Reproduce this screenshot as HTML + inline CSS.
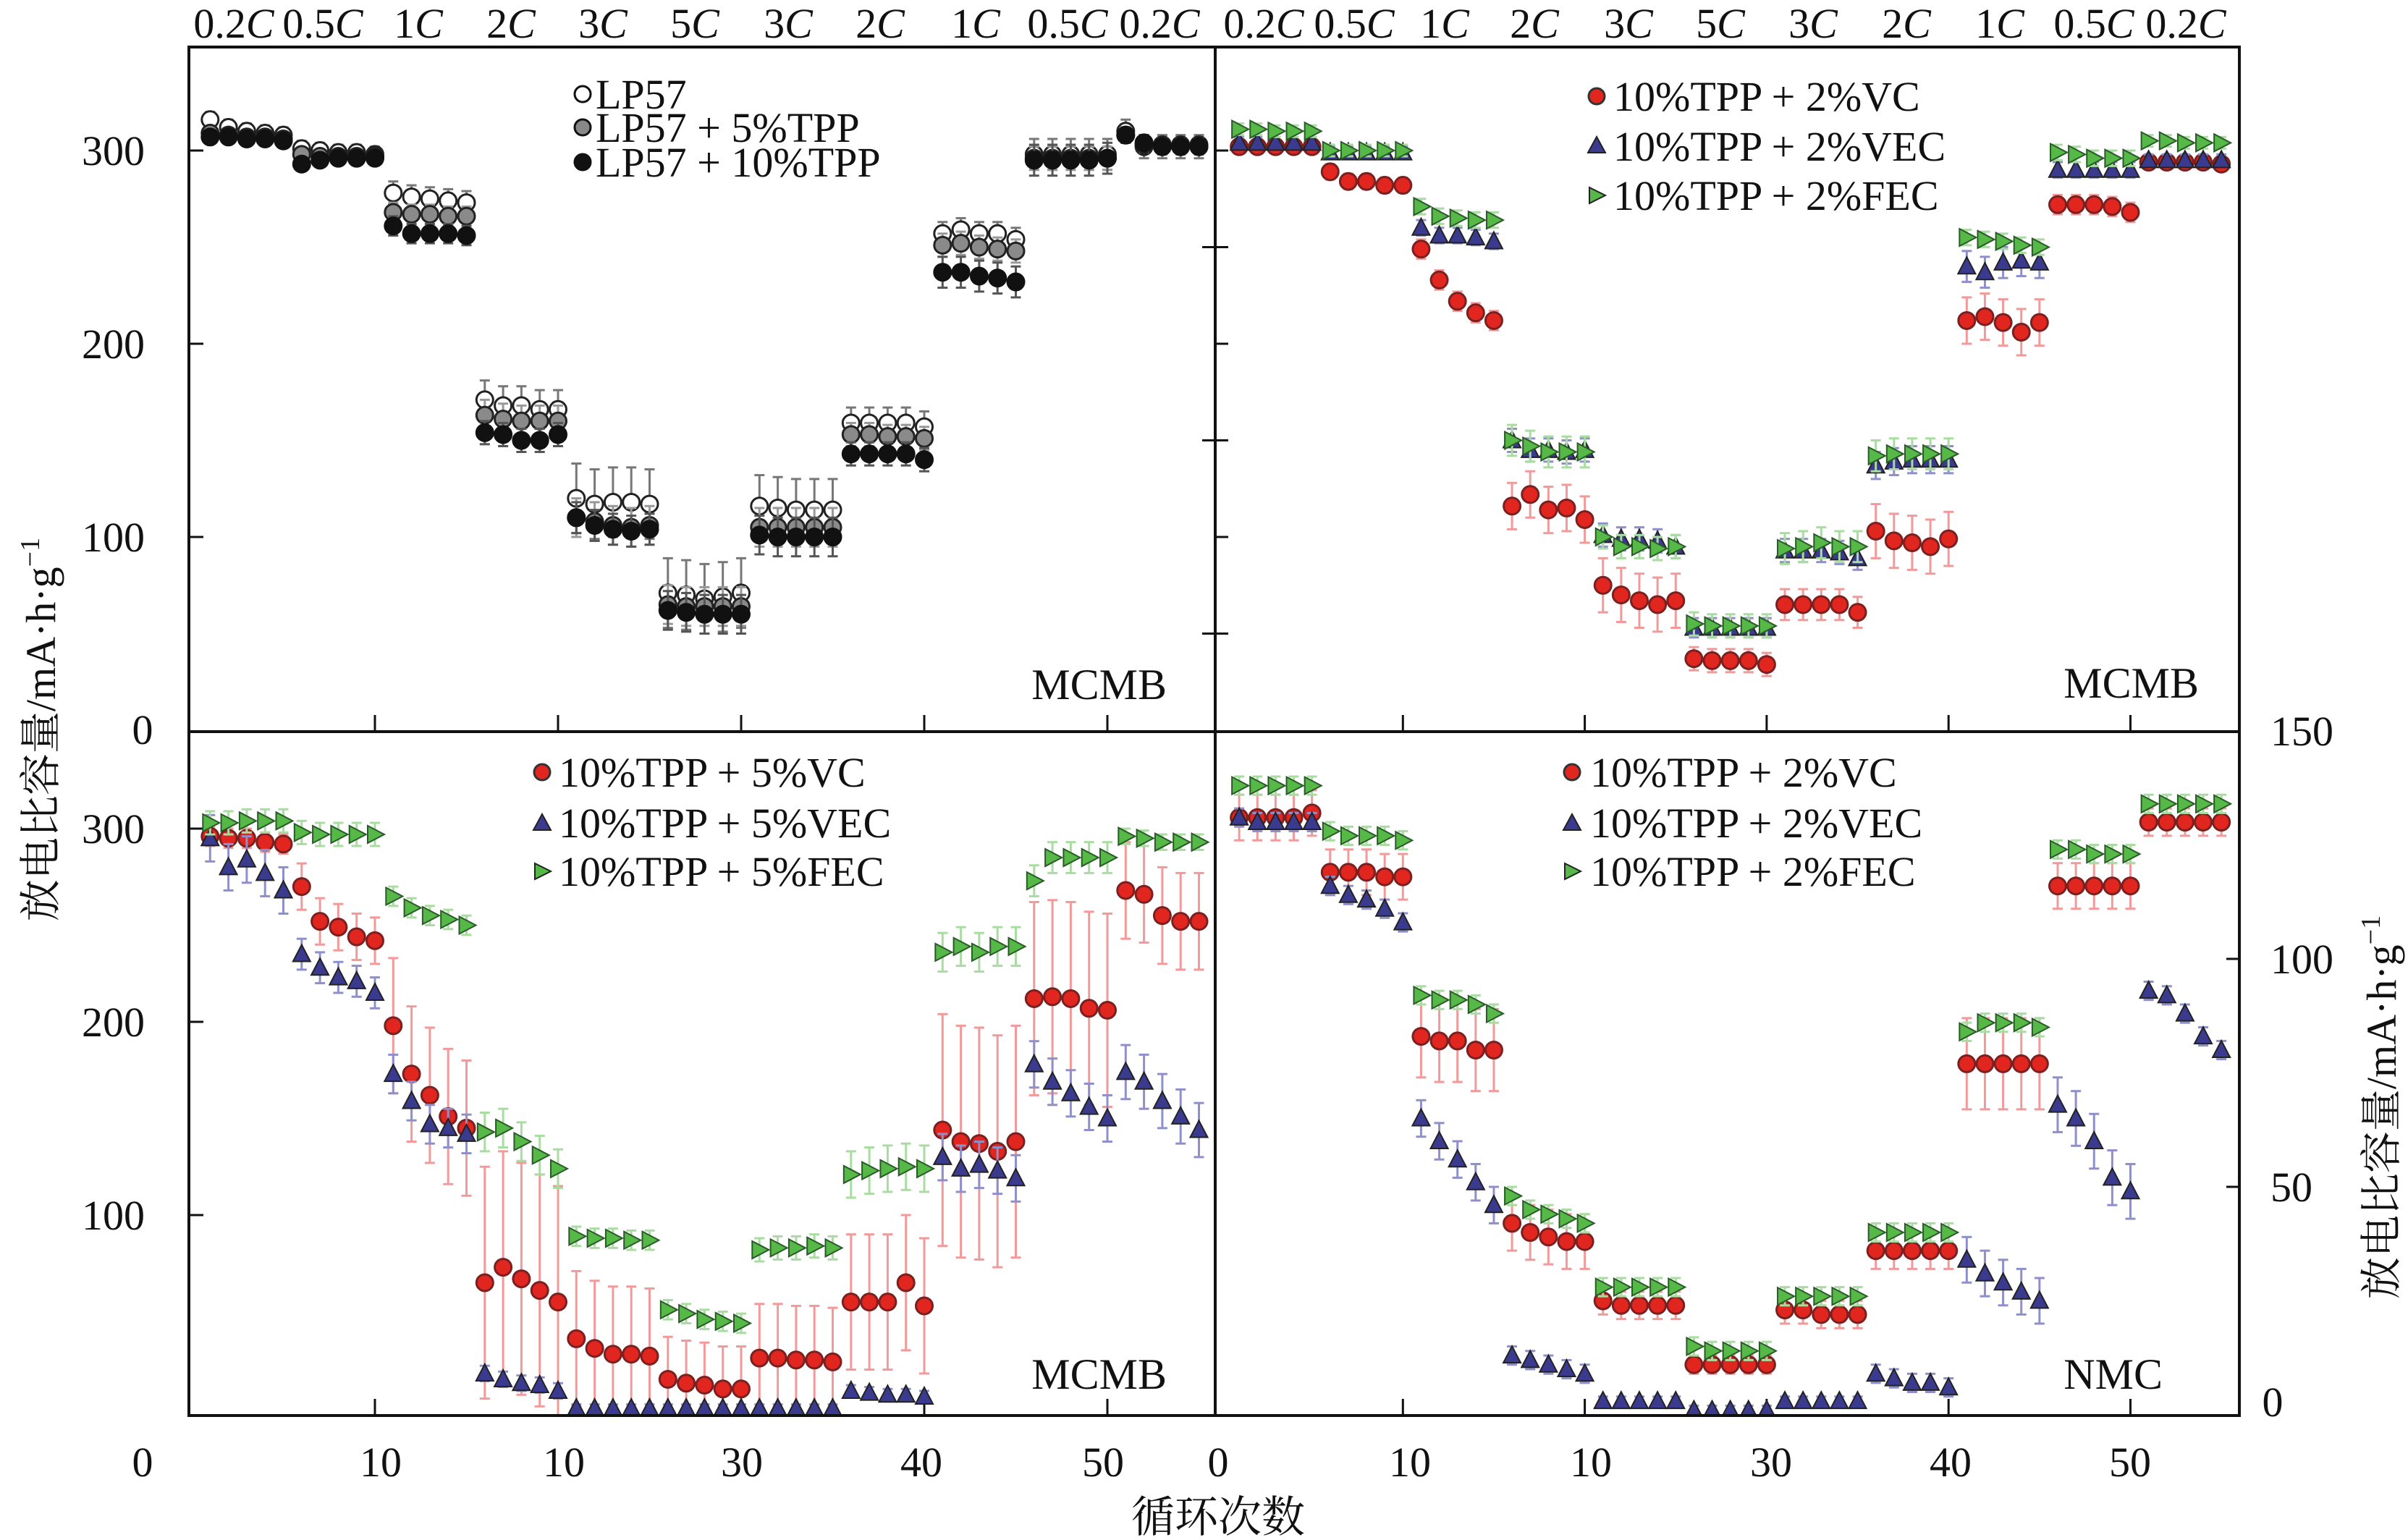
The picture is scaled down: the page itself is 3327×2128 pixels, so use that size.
<!DOCTYPE html>
<html><head><meta charset="utf-8"><style>
html,body{margin:0;padding:0;background:#fff}
svg{display:block}
text{font-family:"Liberation Serif","Noto Serif CJK SC",serif;fill:#111}
</style></head><body>
<svg id="chart" width="3327" height="2128" viewBox="0 0 3327 2128" xmlns="http://www.w3.org/2000/svg">
<defs>
<clipPath id="clipTL"><rect x="263" y="67" width="1414" height="943"/></clipPath>
<clipPath id="clipTR"><rect x="1681" y="67" width="1411" height="943"/></clipPath>
<clipPath id="clipBL"><rect x="263" y="1013" width="1414" height="941"/></clipPath>
<clipPath id="clipBR"><rect x="1681" y="1013" width="1411" height="941"/></clipPath>
</defs>
<g id="frame" stroke="#111" fill="none">
<rect x="261" y="65" width="2833" height="1891" stroke-width="4"/>
<line x1="1679" y1="65" x2="1679" y2="1956" stroke-width="4"/>
<line x1="261" y1="1011" x2="3094" y2="1011" stroke-width="4"/>
</g>
<g id="ticks" stroke="#111" stroke-width="3"></g>
<g id="layerTL" clip-path="url(#clipTL)"></g>
<g id="layerTR" clip-path="url(#clipTR)"></g>
<g id="layerBL" clip-path="url(#clipBL)"></g>
<g id="layerBR" clip-path="url(#clipBR)"></g>
<g id="labels" font-size="58"></g>

<!-- legends -->
<g font-size="58">
<circle cx="805" cy="130" r="11" fill="#fff" stroke="#111" stroke-width="3"/>
<text x="823" y="150">LP57</text>
<circle cx="805" cy="176" r="11" fill="#888" stroke="#111" stroke-width="3"/>
<text x="823" y="196">LP57 + 5%TPP</text>
<circle cx="805" cy="224" r="11" fill="#111" stroke="#111" stroke-width="3"/>
<text x="823" y="244">LP57 + 10%TPP</text>
</g>
<g font-size="58">
<circle cx="2206" cy="133" r="11" fill="#e0261f" stroke="#333" stroke-width="3"/>
<text x="2229" y="153">10%TPP + 2%VC</text>
<polygon points="2206,189 2194,211 2218,211" fill="#3a3a8e" stroke="#222" stroke-width="2"/>
<text x="2229" y="222">10%TPP + 2%VEC</text>
<polygon points="2196,259 2218,270 2196,281" fill="#56b947" stroke="#222" stroke-width="2"/>
<text x="2229" y="290">10%TPP + 2%FEC</text>
</g>
<g font-size="58">
<circle cx="749" cy="1067" r="11" fill="#e0261f" stroke="#333" stroke-width="3"/>
<text x="772" y="1087">10%TPP + 5%VC</text>
<polygon points="749,1125 737,1147 761,1147" fill="#3a3a8e" stroke="#222" stroke-width="2"/>
<text x="772" y="1157">10%TPP + 5%VEC</text>
<polygon points="739,1193 761,1204 739,1215" fill="#56b947" stroke="#222" stroke-width="2"/>
<text x="772" y="1224">10%TPP + 5%FEC</text>
</g>
<g font-size="58">
<circle cx="2172" cy="1067" r="11" fill="#e0261f" stroke="#333" stroke-width="3"/>
<text x="2197" y="1087">10%TPP + 2%VC</text>
<polygon points="2172,1125 2160,1147 2184,1147" fill="#3a3a8e" stroke="#222" stroke-width="2"/>
<text x="2197" y="1157">10%TPP + 2%VEC</text>
<polygon points="2162,1193 2184,1204 2162,1215" fill="#56b947" stroke="#222" stroke-width="2"/>
<text x="2197" y="1224">10%TPP + 2%FEC</text>
</g>
<g font-size="60">
<text x="1612" y="966" text-anchor="end">MCMB</text>
<text x="3038" y="964" text-anchor="end">MCMB</text>
<text x="1612" y="1919" text-anchor="end">MCMB</text>
<text x="2988" y="1919" text-anchor="end">NMC</text>
</g>
<text x="1683" y="2117" font-size="60" text-anchor="middle">循环次数</text>
<text transform="translate(76,1008) rotate(-90)" font-size="58" text-anchor="middle">放电比容量/mA·h·g<tspan font-size="38" dy="-22">−1</tspan></text>
<text transform="translate(3310,1530) rotate(-90)" font-size="58" text-anchor="middle">放电比容量/mA·h·g<tspan font-size="38" dy="-22">−1</tspan></text>
</svg>
<script>
// ---- data ----
const rateLabels = ["0.2","0.5","1","2","3","5","3","2","1","0.5","0.2"];
const rateXLeft = [323,446,578,706,833,960,1089,1216,1348,1475,1602];
const rateXRight = [1746,1871,1996,2120,2250,2377,2505,2634,2763,2893,3020];
const cycleTicks = [10,20,30,40,50];
const xTickLabels = ["0","10","10","30","40","50","0","10","10","30","40","50"];
const xTickLabelPos = [197,526,779,1025,1273,1524,1683,1948,2198,2447,2695,2943];

// top-left
const tlOpen = [316,312,310,309,308, 301,300,299,299,298, 278,276,275,274,273, 171,168,168,166,166, 120,117,118,118,117, 71,70,68,69,71, 116,115,114,114,114, 159,159,159,159,157, 257,259,257,257,254, 298,298,298,298,298, 310,302,302,302,302];
const tlGray = [309,308,307,307,306, 298,297,297,297,297, 268,267,267,266,266, 163,161,160,160,160, 110,108,106,105,106, 65,64,64,64,64, 105,105,105,105,105, 153,153,152,152,151, 251,252,250,249,248, 296,296,296,296,296, 308,303,303,303,303];
const tlBlack = [307,307,306,306,305, 293,295,296,296,296, 261,257,257,257,256, 154,153,150,150,153, 110,106,104,103,104, 62,61,60,60,60, 101,100,100,100,100, 143,143,143,143,140, 237,237,235,234,232, 295,295,295,295,296, 308,304,302,302,302];
const tlOpenErr = [4,4,6,10,18,18,16,8,6,8,6];
const tlGrayErr = [3,3,5,8,10,10,10,6,6,6,4];
const tlBlackErr = [3,3,5,6,8,10,10,6,8,8,4];

// top-right
const trVC = [302,302,302,302,302, 289,284,284,282,282, 249,233,222,216,212, 116,122,114,115,109, 75,70,67,65,67, 37,36,36,36,34, 65,65,65,65,61, 103,98,97,95,99, 212,214,211,206,211, 272,272,272,271,268, 294,294,294,294,293];
const trVEC = [304,304,304,304,304, 299,299,299,299,299, 260,256,256,255,253, 150,145,145,144,145, 101,99,99,98,95, 53,53,53,53,53, 93,93,93,92,89, 137,139,140,140,140, 240,237,242,243,242, 290,290,290,290,290, 295,295,295,295,295];
const trFEC = [311,311,310,310,310, 300,300,300,300,300, 271,266,265,264,264, 150,147,144,144,144, 100,95,95,94,95, 55,54,54,54,54, 94,95,97,95,95, 142,143,143,143,143, 255,254,253,251,250, 299,298,296,296,296, 305,305,304,304,304];
const trVCErr = [3,4,5,12,14,6,8,14,12,5,3];
const trVECErr = [3,3,4,6,6,5,6,7,8,4,3];
const trFECErr = [3,3,4,8,6,6,8,8,4,4,3];

// bottom-left
const blVC = [296,295,295,293,292, 270,252,249,244,242, 198,173,162,151,145, 65,73,67,61,55, 36,31,28,28,27, 15,13,12,10,10, 26,26,25,25,24, 55,55,55,65,53, 144,138,137,133,138, 212,213,212,207,206, 268,266,255,252,252];
const blVEC = [295,280,284,277,268, 235,228,223,221,215, 173,159,147,145,142, 18,15,13,12,9, 0,0,0,0,0, 0,0,0,0,0, 0,0,0,0,0, 9,8,7,7,6, 130,124,126,123,119, 178,169,163,156,150, 174,169,159,151,144];
const blFEC = [303,303,304,304,304, 298,297,297,297,297, 265,259,255,253,250, 143,145,138,131,124, 89,88,88,87,87, 51,49,46,45,44, 82,83,83,84,83, 121,123,124,125,124, 236,239,236,239,239, 273,285,285,285,285, 296,295,293,293,293];
const blVCErr = [5,12,35,60,35,22,28,35,60,50,25];
const blVECErr = [12,8,10,4,2,2,2,3,12,12,14];
const blFECErr = [6,6,5,10,5,5,6,12,10,8,4];

// bottom-right (right axis 0-150)
const brVC = [131,131,131,131,132, 119,119,119,118,118, 83,82,82,80,80, 42,40,39,38,38, 25,24,24,24,24, 11,11,11,11,11, 23,23,22,22,22, 36,36,36,36,36, 77,77,77,77,77, 116,116,116,116,116, 130,130,130,130,130];
const brVEC = [131,130,130,130,130, 116,114,113,111,108, 65,60,56,51,46, 13,12,11,10,9, 3,3,3,3,3, 1,1,1,1,1, 3,3,3,3,3, 9,8,7,7,6, 34,31,29,27,25, 68,65,60,52,49, 93,92,88,83,80];
const brFEC = [138,138,138,138,138, 128,127,127,127,126, 92,91,91,90,88, 48,45,44,43,42, 28,28,28,28,28, 15,14,14,14,14, 26,26,26,26,26, 40,40,40,40,40, 84,86,86,86,85, 124,124,123,123,123, 134,134,134,134,134];
const brVCErr = [5,5,9,6,3,2,3,4,10,5,3];
const brVECErr = [2,2,4,2,1,1,1,2,5,6,2];
const brFECErr = [2,2,2,2,2,2,2,2,2,2,2];

// ---- scales ----
const NS = "http://www.w3.org/2000/svg";
const xL = c => 265 + 25.3 * c;
const xR = c => 1687 + 25.13 * c;
const yTop = v => 1009 - 2.67 * v;
const yBot = v => 1946 - 2.67 * v;
const yBR = v => 1955 - 6.3 * v;

function mk(tag, attrs, parent){
  const e = document.createElementNS(NS, tag);
  for (const k in attrs) e.setAttribute(k, attrs[k]);
  parent.appendChild(e);
  return e;
}

function drawSeries(layer, name, vals, errs, xs, ys, shape, fill, stroke, errColor){
  const g = document.createElementNS(NS, 'g');
  
  
  layer.appendChild(g);
  vals.forEach((v, i) => {
    const c = i + 1;
    const e = errs[Math.floor(i / 5)];
    const x = xs(c), y = ys(v), y1 = ys(v + e), y2 = ys(Math.max(v - e, -5));
    mk('line', {x1:x, y1:y1, x2:x, y2:y2, stroke:errColor, 'stroke-width':3}, g);
    mk('line', {x1:x-7, y1:y1, x2:x+7, y2:y1, stroke:errColor, 'stroke-width':3}, g);
    mk('line', {x1:x-7, y1:y2, x2:x+7, y2:y2, stroke:errColor, 'stroke-width':3}, g);
    let m;
    if (shape === 'circle') {
      m = mk('circle', {cx:x, cy:y, r:11.5, fill:fill, stroke:stroke, 'stroke-width':3}, g);
    } else if (shape === 'up') {
      m = mk('polygon', {points:`${x},${y-13} ${x-12},${y+10} ${x+12},${y+10}`, fill:fill, stroke:stroke, 'stroke-width':2}, g);
    } else {
      m = mk('polygon', {points:`${x-10},${y-12} ${x+13},${y} ${x-10},${y+12}`, fill:fill, stroke:stroke, 'stroke-width':2}, g);
    }
    
    
  });
}

const L = id => document.getElementById(id);
const RED = '#e0261f', BLUE = '#3a3a8e', GREEN = '#56b947';
const RE = '#f29a9a', BE = '#8f8fcc', GE = '#a9dca0';

drawSeries(L('layerTL'), 'series-lp57', tlOpen, tlOpenErr, xL, yTop, 'circle', '#fff', '#222', '#777');
drawSeries(L('layerTL'), 'series-lp57-5tpp', tlGray, tlGrayErr, xL, yTop, 'circle', '#8a8a8a', '#222', '#999');
drawSeries(L('layerTL'), 'series-lp57-10tpp', tlBlack, tlBlackErr, xL, yTop, 'circle', '#111', '#111', '#555');

drawSeries(L('layerTR'), 'series-tr-2vc', trVC, trVCErr, xR, yTop, 'circle', RED, '#7a2020', RE);
drawSeries(L('layerTR'), 'series-tr-2vec', trVEC, trVECErr, xR, yTop, 'up', BLUE, '#222', BE);
drawSeries(L('layerTR'), 'series-tr-2fec', trFEC, trFECErr, xR, yTop, 'right', GREEN, '#2a5a2a', GE);

drawSeries(L('layerBL'), 'series-bl-5vc', blVC, blVCErr, xL, yBot, 'circle', RED, '#7a2020', RE);
drawSeries(L('layerBL'), 'series-bl-5vec', blVEC, blVECErr, xL, yBot, 'up', BLUE, '#222', BE);
drawSeries(L('layerBL'), 'series-bl-5fec', blFEC, blFECErr, xL, yBot, 'right', GREEN, '#2a5a2a', GE);

drawSeries(L('layerBR'), 'series-br-2vc', brVC, brVCErr, xR, yBR, 'circle', RED, '#7a2020', RE);
drawSeries(L('layerBR'), 'series-br-2vec', brVEC, brVECErr, xR, yBR, 'up', BLUE, '#222', BE);
drawSeries(L('layerBR'), 'series-br-2fec', brFEC, brFECErr, xR, yBR, 'right', GREEN, '#2a5a2a', GE);

// ---- ticks ----
const tk = L('ticks');
cycleTicks.forEach(c => {
  [xL(c), xR(c)].forEach(x => {
    mk('line', {x1:x, y1:1011, x2:x, y2:988}, tk);
    mk('line', {x1:x, y1:1956, x2:x, y2:1933}, tk);
  });
});
[100,200,300].forEach(v => {
  mk('line', {x1:261, y1:yTop(v), x2:281, y2:yTop(v)}, tk);
  mk('line', {x1:261, y1:yBot(v), x2:281, y2:yBot(v)}, tk);
});
[50,100,150,200,250,300].forEach(v => {
  mk('line', {x1:1679, y1:yTop(v), x2:1697, y2:yTop(v)}, tk);
});
[50,150,250].forEach(v => {
  mk('line', {x1:1679, y1:yTop(v), x2:1661, y2:yTop(v)}, tk);
});
[50,100].forEach(v => {
  mk('line', {x1:3094, y1:yBR(v), x2:3076, y2:yBR(v)}, tk);
});

// ---- labels ----
const lb = L('labels');
function txt(x, y, s, anchor, name){
  const t = mk('text', {x:x, y:y, 'text-anchor':anchor}, lb);
  t.textContent = s;
  
  
  return t;
}
function rateText(x, r, name){
  const t = mk('text', {x:x, y:52, 'text-anchor':'middle'}, lb);
  
  
  t.appendChild(document.createTextNode(r));
  const s = document.createElementNS(NS, 'tspan');
  s.setAttribute('font-style', 'italic');
  s.textContent = 'C';
  t.appendChild(s);
}
rateLabels.forEach((r, i) => { rateText(rateXLeft[i], r, 'rate-label-left'); rateText(rateXRight[i], r, 'rate-label-right'); });
xTickLabels.forEach((s, i) => txt(xTickLabelPos[i], 2040, s, 'middle', 'x-tick-label'));
[300,200,100].forEach(v => txt(200, yTop(v) + 20, String(v), 'end', 'y-tick-label-top'));
txt(197, 1028, '0', 'middle', 'y-tick-label-top-zero');
[300,200,100].forEach(v => txt(200, yBot(v) + 20, String(v), 'end', 'y-tick-label-bottom'));
[150,100,50].forEach(v => txt(3137, yBR(v) + 20, String(v), 'start', 'y-tick-label-right'));
txt(3140, 1957, '0', 'middle', 'y-tick-label-right-zero');
</script>
</body></html>
